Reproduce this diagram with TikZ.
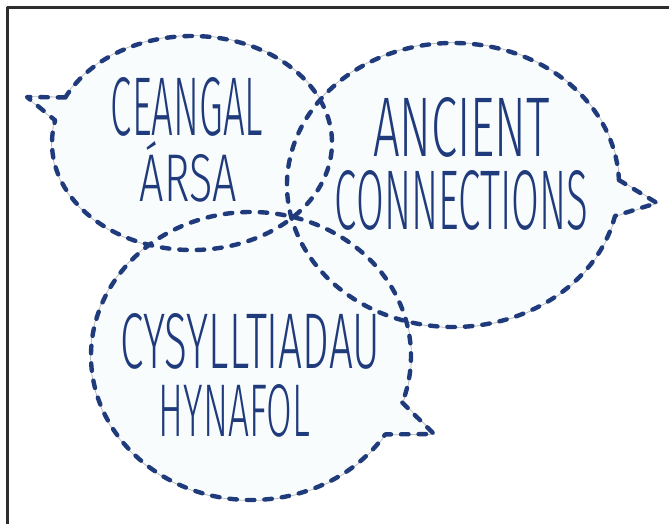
\documentclass[tikz,border=0pt]{standalone}
\usepackage{fontspec}
\usepackage{graphicx}
\setmainfont{Fira Sans}[UprightFont=* Light]
\usetikzlibrary{calc}
\definecolor{navy}{HTML}{1F3B7C}
\definecolor{bubblefill}{HTML}{F9FCFD}
\definecolor{halogray}{HTML}{B4B4B4}
\definecolor{framegray}{HTML}{2E2E2E}

\begin{document}
\begin{tikzpicture}[x=1pt, y=-1pt, line cap=round, line join=round,
	halo/.style={draw=halogray, line width=1.6pt},
	dashes/.style={draw=navy, line width=4.4pt, dash pattern=on 7.5pt off 10pt},
	word/.style={inner sep=0pt, text=navy}]
	\useasboundingbox (0,0) rectangle (669,524);
	\draw[framegray, line width=2.6pt, line cap=butt] (7.5,524) -- (7.5,7.5) -- (669,7.5);
	% the three speech bubbles
	\path[save path=\bubbleone] (192,143) ++(205.2:140 and 107) -- (27,97)
		-- ($(192,143)+(192.2:140 and 107)$) arc[start angle=192.2, end angle=-154.8, x radius=140, y radius=107] -- cycle;
	\path[save path=\bubbletwo] (453,185) ++(-2:166 and 142) -- (657,203)
		-- ($(453,185)+(12.6:166 and 142)$) arc[start angle=12.6, end angle=358, x radius=166, y radius=142] -- cycle;
	\path[save path=\bubblethree] (251,356) ++(18.9:160 and 144) -- (434,434)
		-- ($(251,356)+(33:160 and 144)$) arc[start angle=33, end angle=378.9, x radius=160, y radius=144] -- cycle;
	\draw[halo, use path=\bubbleone];
	\draw[halo, use path=\bubbletwo];
	\draw[halo, use path=\bubblethree];
	\fill[bubblefill, use path=\bubbleone];
	\fill[bubblefill, use path=\bubbletwo];
	\fill[bubblefill, use path=\bubblethree];
	\draw[dashes, use path=\bubbleone];
	\draw[dashes, use path=\bubbletwo];
	\draw[dashes, use path=\bubblethree];
	% words
	\node[word] (ceangal) at (187,107) {\resizebox{152pt}{58pt}{CEANGAL}};
	\node[word] (arsa) at (188.5,178.5) {\resizebox{97pt}{47pt}{\smash{Á}RSA}};
	\node[word] (ancient) at (461.5,127) {\resizebox{177pt}{59pt}{ANCIENT}};
	\node[word] (connections) at (461.5,200) {\resizebox{253pt}{59pt}{CONNECTIONS}};
	\node[word] (cysylltiadau) at (250.5,341.5) {\resizebox{259pt}{55pt}{CYSYLLTIADAU}};
	\node[word] (hynafol) at (234.5,411) {\resizebox{151pt}{52pt}{HYNAFOL}};
\end{tikzpicture}
\end{document}
